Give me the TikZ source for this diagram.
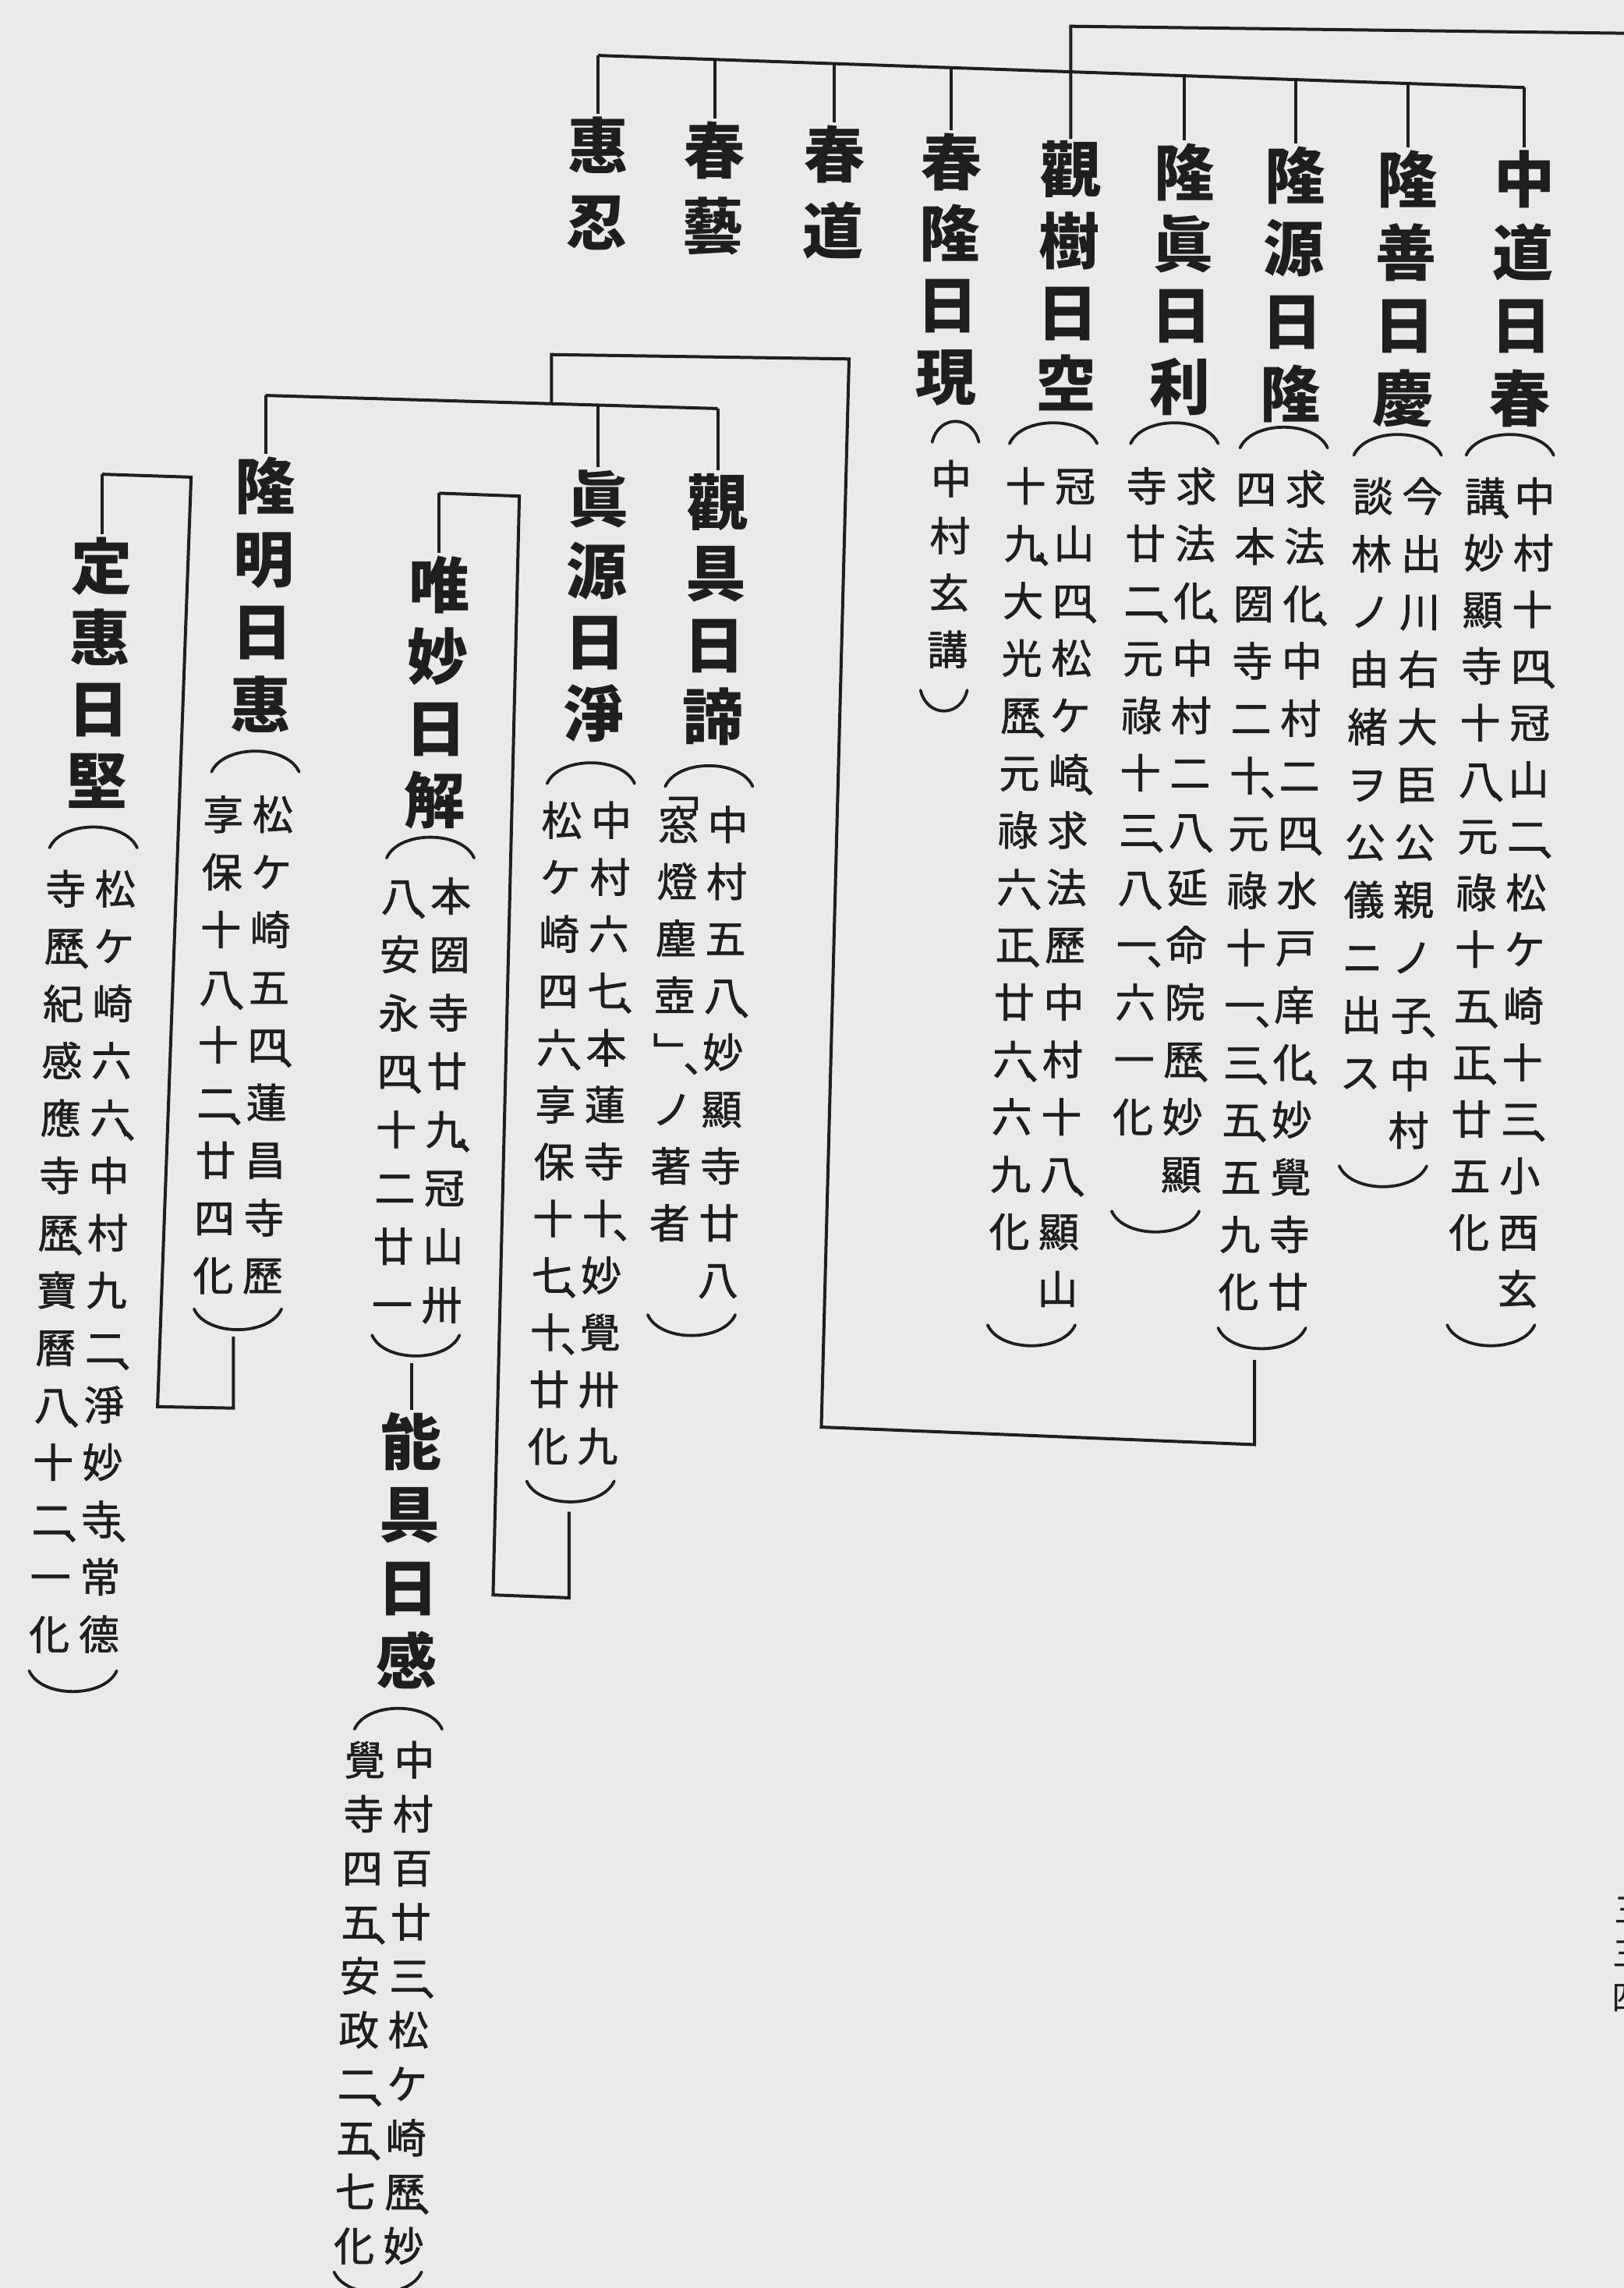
\documentclass[tikz,border=0pt]{standalone}
\usepackage{fontspec}
\newfontfamily\cjk{Noto Sans CJK JP}
\newfontfamily\cjkm{Noto Sans CJK JP}[FakeBold=1.3]
\usetikzlibrary{calc}
\definecolor{paper}{RGB}{234,234,232}
\definecolor{ink}{RGB}{30,30,30}
\newcommand\dt{\rlap{\kern-0.26em\raisebox{-0.12em}{、}}}
\newcommand\drf{0.022}
\newcommand\vcol[6]{\foreach \vch [count=\i from 0] in {#6}{\node[#5] (#1\i) at ({#2-\drf*\i*#4},{#3+\i*#4}) {\vch};}}
\newcommand\anno[7]{\vcol{#1r}{#2+#5}{#3}{#4}{smallch}{#6}\vcol{#1l}{#2-#5}{#3}{#4}{smallch}{#7}}
\newcommand\popen[3]{\draw[parenl] ({#1-#3/2},{#2+7}) .. controls ({#1-0.36*#3},{#2-12}) and ({#1+0.36*#3},{#2-12}) .. ({#1+#3/2},{#2+7});}
\newcommand\pclose[3]{\draw[parenl] ({#1-#3/2},{#2-7}) .. controls ({#1-0.36*#3},{#2+12}) and ({#1+0.36*#3},{#2+12}) .. ({#1+#3/2},{#2-7});}
\begin{document}
\begin{tikzpicture}[x=1.8715pt,y=-1.8715pt,
  mainch/.style={inner sep=0pt,outer sep=0pt,text=ink,font=\cjk\bfseries\fontsize{78}{78}\selectfont,text height=68.6pt,text depth=9.4pt},
  smallch/.style={inner sep=0pt,outer sep=0pt,text=ink,font=\cjkm\fontsize{52}{52}\selectfont,text height=45.8pt,text depth=6.2pt},
  pgch/.style={inner sep=0pt,outer sep=0pt,text=ink,font=\cjk\fontsize{44}{44}\selectfont},
  conn/.style={draw=ink,line width=4pt},
  tick/.style={draw=ink,line width=4pt,shorten >=2pt},
  parenl/.style={draw=ink,line width=3.8pt,line cap=round}]
\fill[paper] (0,0) rectangle (1113,1568);
\useasboundingbox (0,0) rectangle (1113,1568);
% ---- first generation names
\vcol{c1-}{1045}{123}{50}{mainch}{中,道,日,春}
\vcol{c2-}{965}{123}{50}{mainch}{隆,善,日,慶}
\vcol{c3-}{888}{120}{50}{mainch}{隆,源,日,隆}
\vcol{c4-}{812}{118}{49}{mainch}{隆,眞,日,利}
\vcol{c5-}{734}{116}{49}{mainch}{觀,樹,日,空}
\vcol{c6-}{652}{111}{49}{mainch}{春,隆,日,現}
\vcol{c7-}{572}{106}{52}{mainch}{春,道}
\vcol{c8-}{490}{103}{52}{mainch}{春,藝}
\vcol{c9-}{410}{100}{52}{mainch}{惠,忍}
% ---- annotations, first generation
\popen{1035}{305}{60}
\anno{a1}{1035}{340}{38.8}{17}{中,村,十,四\dt,冠,山,二\dt,松,ケ,崎,十,三\dt,小,西,玄}{講\dt,妙,顯,寺,十,八\dt,元,祿,十,五\dt,正\dt,廿,五,化}
\pclose{1022}{915}{60}
\popen{958}{305}{60}
\anno{a2}{958}{340}{39.5}{17}{今,出,川,右,大,臣,公,親,ノ,子\dt,中,村}{談,林,ノ,由,緒,ヲ,公,儀,ニ,出,ス}
\pclose{948}{806}{60}
\popen{880}{300}{60}
\anno{a3}{878}{335}{39.3}{17}{求,法,化\dt,中,村,二,四\dt,水,戸,庠,化\dt,妙,覺,寺,廿}{四,本,圀,寺,二,十\dt,元,祿,十,一\dt,三\dt,五\dt,五,九,化}
\pclose{865}{917}{60}
\popen{805}{297}{60}
\anno{a4}{803}{333}{39.3}{17}{求,法,化\dt,中,村,二,八\dt,延,命,院,歷\dt,妙,顯}{寺,廿,二\dt,元,祿,十,三\dt,八\dt,一\dt,六,一,化}
\pclose{792}{837}{60}
\popen{722}{297}{60}
\anno{a5}{720}{333}{39.3}{17}{冠,山,四\dt,松,ケ,崎\dt,求,法,歷,中,村,十,八\dt,顯,山}{十,九\dt,大,光,歷\dt,元,祿,六\dt,正\dt,廿,六\dt,六,九,化}
\pclose{707}{915}{60}
\popen{655}{296}{32}
\vcol{a6-}{652}{328}{39}{smallch}{中,村,玄,講}
\pclose{647}{480}{32}
% ---- second generation names
\vcol{d1-}{492}{344}{49}{mainch}{觀,具,日,諦}
\vcol{d2-}{410}{342}{49}{mainch}{眞,源,日,淨}
\vcol{d3-}{182}{333}{50}{mainch}{隆,明,日,惠}
\vcol{d4-}{301}{401}{49}{mainch}{唯,妙,日,解}
\vcol{d5-}{282}{988}{50}{mainch}{能,具,日,感}
\vcol{d6-}{70}{388}{49}{mainch}{定,惠,日,堅}
% ---- annotations, later generations
\popen{486}{532}{60}
\anno{a7}{482}{565}{39}{17}{中,村,五,八\dt,妙,顯,寺,廿,八}{窓,燈,塵,壺,﹂\dt,ノ,著,者}
\node[smallch] (a7q) at (465,542) {﹁};
\pclose{474}{908}{60}
\popen{405}{530}{60}
\anno{a8}{402}{562}{39}{17}{中,村,六,七\dt,本,蓮,寺,十\dt,妙,覺,卅,九}{松,ケ,崎,四,六\dt,享,保,十,七\dt,十\dt,廿,化}
\pclose{391}{1022}{60}
\popen{295}{581}{60}
\anno{a9}{292}{614}{40}{17}{本,圀,寺,廿,九\dt,冠,山,卅}{八\dt,安,永,四\dt,十,二,廿,一}
\pclose{285}{922}{60}
\popen{273}{1178}{60}
\anno{a10}{267}{1206}{37}{17}{中,村,百,廿,三\dt,松,ケ,崎,歷\dt,妙}{覺,寺,四,五\dt,安,政,二\dt,五\dt,七,化}
\pclose{259}{1564}{60}
\popen{175}{522}{60}
\anno{a11}{170}{558}{39.5}{17}{松,ケ,崎,五,四\dt,蓮,昌,寺,歷}{享,保,十,八\dt,十,二\dt,廿,四,化}
\pclose{163}{904}{60}
\popen{64}{574}{60}
\anno{a12}{62}{609}{39.3}{17}{松,ケ,崎,六,六\dt,中,村,九,二\dt,淨,妙,寺\dt,常,德}{寺,歷\dt,紀,感,應,寺,歷\dt,寶,曆,八\dt,十,二\dt,一,化}
\pclose{50}{1152}{60}
% ---- page number at the cut edge
\vcol{pg-}{1118}{1309}{30}{pgch}{三,三,四}
% ---- connectors, first generation
\coordinate (T0) at (734,18);
\coordinate (T1) at (1130,23);
\draw[conn] (T1) -- (T0) -- (c5-0.north);
\coordinate (L2a) at (410,38);
\coordinate (L2b) at (1045,60);
\draw[conn] (L2a) -- (L2b);
\coordinate (k8) at (490,40.8);
\coordinate (k7) at (572,43.6);
\coordinate (k6) at (652,46.4);
\coordinate (k4) at (812,51.9);
\coordinate (k3) at (888,54.6);
\coordinate (k2) at (965,57.2);
\draw[tick] (L2a) -- (c9-0.north);
\draw[tick] (k8) -- (c8-0.north);
\draw[tick] (k7) -- (c7-0.north);
\draw[tick] (k6) -- (c6-0.north);
\draw[tick] (k4) -- (c4-0.north);
\draw[tick] (k3) -- (c3-0.north);
\draw[tick] (k2) -- (c2-0.north);
\draw[tick] (L2b) -- (c1-0.north);
% ---- connectors, children of 隆源日隆
\coordinate (s0) at (860,932);
\coordinate (s1) at (860,990);
\coordinate (s2) at (563,978);
\coordinate (s3) at (582,246);
\coordinate (s4) at (378,243);
\coordinate (s5) at (378,276.7);
\draw[conn] (s0) -- (s1) -- (s2) -- (s3) -- (s4) -- (s5);
\coordinate (g0) at (182,271);
\coordinate (g1) at (492,280);
\coordinate (gA) at (410,277.6);
\draw[conn] (g0) -- (g1);
\draw[tick] (g0) -- (d3-0.north);
\draw[tick] (gA) -- (d2-0.north);
\draw[tick] (g1) -- (d1-0.north);
% ---- child of 眞源日淨
\coordinate (u0) at (390,1036);
\coordinate (u1) at (390,1095);
\coordinate (u2) at (338,1093);
\coordinate (u3) at (356,340);
\coordinate (u4) at (301,338);
\draw[conn] (u0) -- (u1) -- (u2) -- (u3) -- (u4);
\draw[tick] (u4) -- (d4-0.north);
% ---- child of 唯妙日解
\coordinate (v0) at (282,934);
\draw[tick] (v0) -- (d5-0.north);
% ---- child of 隆明日惠
\coordinate (w0) at (160,916);
\coordinate (w1) at (160,965);
\coordinate (w2) at (108,964);
\coordinate (w3) at (131,327);
\coordinate (w4) at (70,325);
\draw[conn] (w0) -- (w1) -- (w2) -- (w3) -- (w4);
\draw[tick] (w4) -- (d6-0.north);
\end{tikzpicture}
\end{document}
